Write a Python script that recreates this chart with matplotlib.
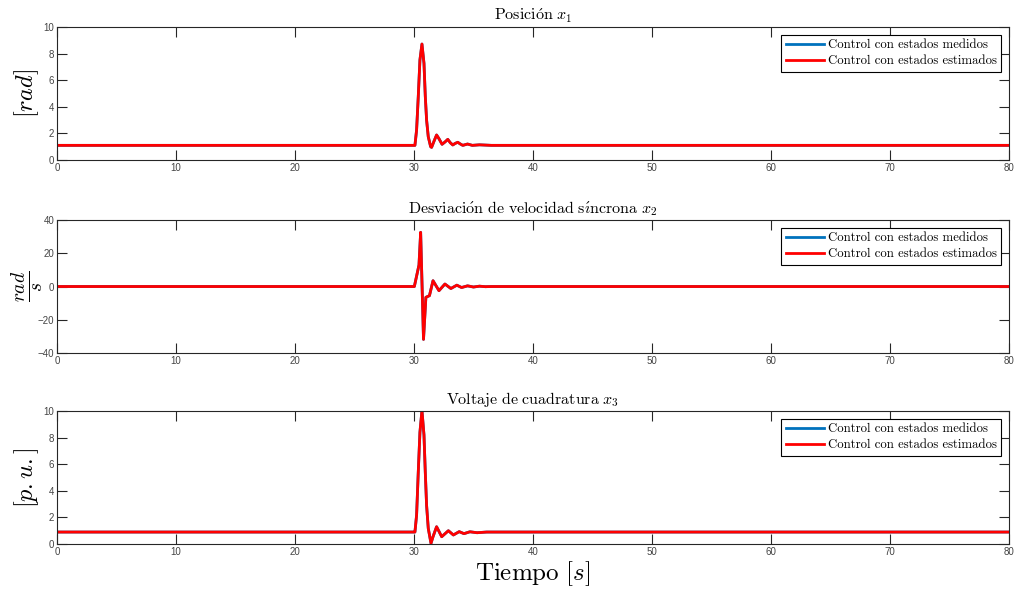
import numpy as np
import matplotlib
matplotlib.use('Agg')
import matplotlib.pyplot as plt

plt.rcParams['mathtext.fontset'] = 'cm'
plt.rcParams['font.family'] = ['Liberation Sans', 'DejaVu Sans']

# valores
t_x1 = [0, 30.0, 30.08, 30.22, 30.36, 30.5, 30.67, 30.84, 30.95, 31.06, 31.2, 31.4, 31.48,
        31.7, 31.9, 32.1, 32.36, 32.6, 32.84, 33.05, 33.26, 33.47, 33.68, 33.9, 34.1, 34.5,
        34.9, 35.5, 36.5, 80]
x1 = [1.1, 1.1, 1.1, 2.26, 4.76, 7.52, 8.72, 7.27, 4.8, 3.0, 1.75, 1.0, 0.95,
      1.45, 1.88, 1.6, 1.18, 1.35, 1.55, 1.3, 1.13, 1.25, 1.33, 1.2, 1.1, 1.2,
      1.1, 1.14, 1.1, 1.1]

t_x2 = [0, 30.03, 30.42, 30.56, 30.8, 31.0, 31.3, 31.6, 32.1, 32.6, 33.1, 33.6, 34.0,
        34.5, 35.0, 35.5, 36.0, 36.5, 80]
x2 = [0, 0, 12.9, 32.6, -31.8, -6.5, -5.5, 3.5, -2.5, 1.5, -1.2, 0.8, -0.6,
      0.4, -0.3, 0.2, -0.1, 0, 0]

t_x3 = [0, 30.0, 30.08, 30.22, 30.36, 30.5, 30.67, 30.84, 30.95, 31.06, 31.2, 31.43,
        31.6, 31.9, 32.33, 32.89, 33.31, 33.8, 34.2, 34.7, 35.3, 36.1, 80]
x3 = [0.9, 0.9, 0.9, 2.18, 5.4, 8.4, 10.05, 8.2, 5.4, 2.9, 1.18, 0.05,
      0.55, 1.3, 0.55, 1.0, 0.68, 0.93, 0.78, 0.92, 0.85, 0.9, 0.9]

series = [(t_x1, x1), (t_x2, x2), (t_x3, x3)]
titles = [r'$\mathrm{Posici\acute{o}n}\ x_1$',
          r'$\mathrm{Desviaci\acute{o}n\ de\ velocidad\ s\acute{\imath}ncrona}\ x_2$',
          r'$\mathrm{Voltaje\ de\ cuadratura}\ x_3$']
ylabels = [r'$[rad]$', r'$\frac{rad}{s}$', r'$[p.u.]$']
ylims = [(0, 10), (-40, 40), (0, 10)]
yticks = [np.arange(0, 11, 2), np.arange(-40, 41, 20), np.arange(0, 11, 2)]
xticks = np.arange(0, 81, 10)
labels = ['Control con estados medidos', 'Control con estados estimados']

fig = plt.figure(figsize=(10.19, 5.91), dpi=100)
bottoms = [0.7293, 0.4027, 0.0795]
edge = '#262626'

for i in range(3):
    ax = fig.add_axes([0.0559, bottoms[i], 0.9343, 0.225])
    t, v = series[i]
    ax.plot(t, v, color=(0, 0.447, 0.741), lw=2, label=labels[0])
    ax.plot(t, v, color='red', lw=2, label=labels[1])
    ax.set_xlim(0, 80)
    ax.set_ylim(*ylims[i])
    ax.set_xticks(xticks)
    ax.set_yticks(yticks[i])
    ax.tick_params(direction='in', length=7, width=0.8, colors=edge, labelsize=7,
                   top=True, right=True, pad=2)
    ax.tick_params(labelcolor='#444444')
    for s in ax.spines.values():
        s.set_color(edge)
        s.set_linewidth(0.8)
    ax.set_title(titles[i], fontsize=11.5, pad=5)
    if i == 1:
        ax.set_ylabel(ylabels[i], fontsize=20)
        ax.yaxis.set_label_coords(-0.013, 0.5)
    else:
        ax.set_ylabel(ylabels[i], fontsize=17.5)
        ax.yaxis.set_label_coords(-0.017, 0.5)
    leg = ax.legend(loc='upper right', prop={'family': 'cmr10', 'size': 9.2},
                    fancybox=False, edgecolor='black', framealpha=1,
                    handlelength=3.0, borderpad=0.35, labelspacing=0.3,
                    handletextpad=0.3, borderaxespad=0.6)
    leg.get_frame().set_linewidth(0.8)
    if i == 2:
        ax.set_xlabel(r'$\mathrm{Tiempo}\ [s]$', fontsize=18, labelpad=2)

fig.savefig('out.png', dpi=100)
